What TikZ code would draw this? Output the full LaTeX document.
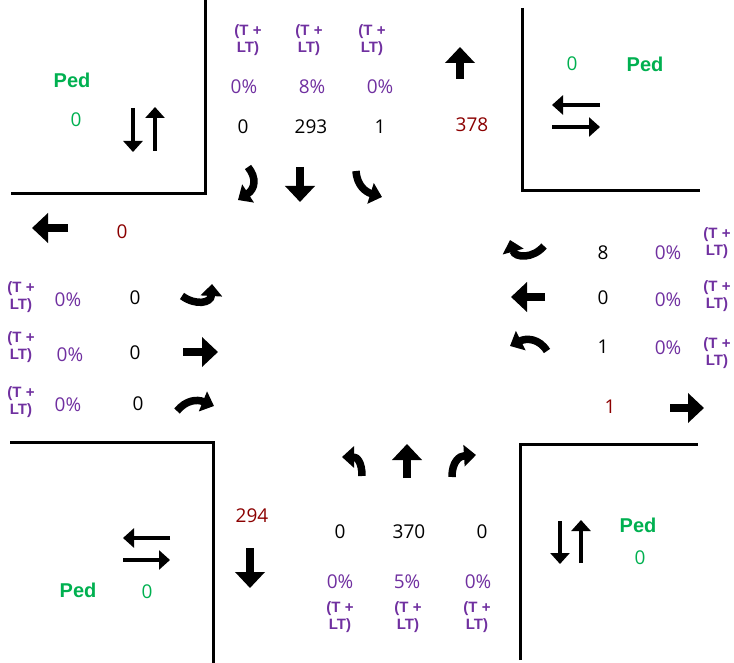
\documentclass[tikz,border=0pt]{standalone}
\usepackage{xcolor}
\usepackage{fontspec}
\setmainfont{Open Sans}
\newfontfamily\lblfont{Liberation Sans}
\usepackage{tikz}
\usetikzlibrary{arrows.meta}

\definecolor{volpurple}{RGB}{112,48,160}
\definecolor{pedgreen}{RGB}{0,176,80}
\definecolor{exitred}{RGB}{139,0,0}

\tikzset{
    vol/.style={font=\fontsize{19}{21}\selectfont, inner sep=0pt},
    pct/.style={vol, text=volpurple},
    tlt/.style={font=\lblfont\bfseries\fontsize{15}{17}\selectfont, text=volpurple, align=center, inner sep=0pt},
    pedlbl/.style={font=\lblfont\bfseries\fontsize{20}{22}\selectfont, text=pedgreen, inner sep=0pt},
    pedvol/.style={vol, text=pedgreen},
    exitvol/.style={vol, text=exitred},
    curb/.style={line width=3pt},
    blk/.style={line width=8.5pt, -{Triangle[length=16pt,width=29pt]}},
    turn/.style={line width=7.5pt, -{Triangle[length=12pt,width=21pt]}},
    pedarr/.style={line width=3.5pt, -{Triangle[length=11pt,width=19pt]}}
}

\begin{document}
\begin{tikzpicture}[x=1pt, y=-1pt]
        \useasboundingbox (0,0) rectangle (734,663);

        \draw[curb] (205,0) -- (205,194) -- (11,194);
        \draw[curb] (522,8) -- (522,191) -- (700,191);
        \draw[curb] (10,442) -- (213,442) -- (213,663);
        \draw[curb] (520,660) -- (520,444) -- (698,444);

        \node[tlt] (ntl) at (248,40) {(T +\\LT)};
        \node[tlt] (ntt) at (309,40) {(T +\\LT)};
        \node[tlt] (ntr) at (372,40) {(T +\\LT)};
        \node[pct] (npl) at (244,87) {0\%};
        \node[pct] (npt) at (312,87) {8\%};
        \node[pct] (npr) at (380,87) {0\%};
        \node[vol] (nvl) at (243,127) {0};
        \node[vol] (nvt) at (311,127) {293};
        \node[vol] (nvr) at (380,127) {1};
        \node[exitvol] (nex) at (472,125) {378};
        \draw[blk] (460,79) -- (460,47);
        \draw[blk] (300,167) -- (300,202);
        \draw[turn] (248,167) .. controls (257,178) and (255,189) .. (238,200);
        \draw[turn] (356,171) .. controls (357,186) and (366,192) .. (382,197);

        \node[pedlbl] (nwped) at (72,80) {Ped};
        \node[pedvol] (nwvol) at (76,120) {0};
        \draw[pedarr] (133,108) -- (133,152);
        \draw[pedarr] (155,151) -- (155,107);

        \node[pedvol] (nevol) at (572,64) {0};
        \node[pedlbl] (neped) at (645,64) {Ped};
        \draw[pedarr] (600,105) -- (552,105);
        \draw[pedarr] (552,127) -- (600,127);

        \draw[blk] (68,228) -- (32,228);
        \node[exitvol] (wex) at (122,232) {0};
        \node[tlt] (wtl) at (21,297) {(T +\\LT)};
        \node[pct] (wpl) at (68,300) {0\%};
        \node[vol] (wvl) at (135,298) {0};
        \draw[turn] (182,296) .. controls (196,306) and (211,303) .. (212,284);
        \node[tlt] (wtt) at (21,347) {(T +\\LT)};
        \node[pct] (wpt) at (70,355) {0\%};
        \node[vol] (wvt) at (135,353) {0};
        \draw[blk] (183,352) -- (218,352);
        \node[tlt] (wtr) at (21,402) {(T +\\LT)};
        \node[pct] (wpr) at (68,405) {0\%};
        \node[vol] (wvr) at (138,404) {0};
        \draw[turn] (177,411) .. controls (186,400) and (197,399) .. (214,406);

        \draw[turn] (544,246) .. controls (533,259) and (515,258) .. (510,240);
        \node[vol] (evl) at (603,253) {8};
        \node[pct] (epl) at (668,253) {0\%};
        \node[tlt] (etl) at (717,243) {(T +\\LT)};
        \draw[blk] (545,297) -- (511,297);
        \node[vol] (evt) at (603,298) {0};
        \node[pct] (ept) at (668,300) {0\%};
        \node[tlt] (ett) at (717,296) {(T +\\LT)};
        \draw[turn] (547,351) .. controls (539,338) and (526,338) .. (510,346);
        \node[vol] (evr) at (603,347) {1};
        \node[pct] (epr) at (668,348) {0\%};
        \node[tlt] (etr) at (717,353) {(T +\\LT)};
        \node[exitvol] (eex) at (610,407) {1};
        \draw[blk] (670,408) -- (704,408);

        \draw[turn] (362,476) .. controls (362,462) and (357,457) .. (342,457);
        \draw[blk] (407,478) -- (407,444);
        \draw[turn] (452,477) .. controls (452,462) and (459,456) .. (476,455);
        \node[vol] (svl) at (340,532) {0};
        \node[vol] (svt) at (409,532) {370};
        \node[vol] (svr) at (482,532) {0};
        \node[pct] (spl) at (340,582) {0\%};
        \node[pct] (spt) at (407,582) {5\%};
        \node[pct] (spr) at (478,582) {0\%};
        \node[tlt] (stl) at (340,617) {(T +\\LT)};
        \node[tlt] (stt) at (408,617) {(T +\\LT)};
        \node[tlt] (str) at (477,617) {(T +\\LT)};

        \node[exitvol] (swex) at (252,516) {294};
        \draw[blk] (250,548) -- (250,588);
        \draw[pedarr] (170,538) -- (123,538);
        \draw[pedarr] (123,560) -- (170,560);
        \node[pedvol] (swvol) at (147,592) {0};
        \node[pedlbl] (swped) at (78,590) {Ped};

        \draw[pedarr] (560,521) -- (560,564);
        \draw[pedarr] (581,563) -- (581,520);
        \node[pedlbl] (seped) at (638,525) {Ped};
        \node[pedvol] (sevol) at (640,558) {0};
    \end{tikzpicture}
\end{document}
